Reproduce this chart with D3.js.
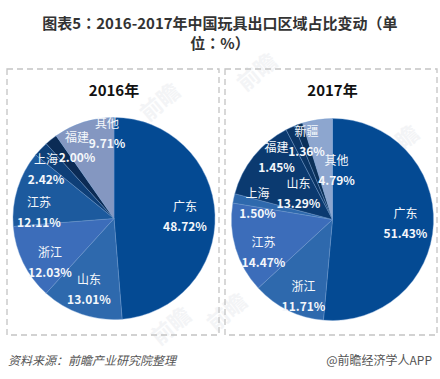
<!DOCTYPE html>
<html>
<head>
<meta charset="utf-8">
<script src="https://cdn.jsdelivr.net/npm/d3@7"></script>
<style>
    html, body { margin: 0; padding: 0; background: #fff; }
    text { font-family: "Noto Sans CJK SC", sans-serif; }
    .tc { font-family: "Noto Sans CJK TC", sans-serif; }
</style>
</head>
<body>
<div id="chart"></div>
<script>
// values, clockwise from 12 o'clock
const names2016 = ["广东", "山东", "浙江", "江苏", "上海", "福建", "其他"];
const values2016 = [48.72, 13.01, 12.03, 12.11, 2.42, 2.00, 9.71];
const colors2016 = ["#044a93", "#2e69ad", "#3c6dba", "#1c5a9e", "#0e3f78", "#0b2b55", "#8497c1"];

const names2017 = ["广东", "浙江", "江苏", "上海", "山东", "福建", "新疆", "其他"];
const values2017 = [51.43, 11.71, 14.47, 1.50, 13.29, 1.45, 1.36, 4.79];
const colors2017 = ["#044a93", "#2e69ad", "#3c6dba", "#2e69ad", "#0b3a70", "#0b3565", "#0b3058", "#8da6cf"];

// label block centres, px from the pie centre (hand placed, same as the original)
const labels2016 = [[71, -2], [-25, 71], [-64, 44], [-75, -6], [-68, -49], [-37, -71], [-7, -85]];
const labels2017 = [[73, 4], [-29, 77.5], [-69, 33.5], [-75, -15.5], [-34, -26], [-56, -62], [-26, -78], [4, -48.5]];

const titleLine1 = [["图表5", 0], ["：", 1], ["2016-2017年中国玩具出口区域占比变动", 0], ["（", 1], ["单", 0]];
const titleLine2 = [["位", 0], ["：", 1], ["%", 0], ["）", 1]];

const width = 440;
const height = 379;
const radius = 101;

const svg = d3.create("svg")
    .attr("width", width)
    .attr("height", height)
    .style("display", "block");

svg.append("rect").attr("width", width).attr("height", height).attr("fill", "#fff");

// faint watermark
const marks = [[165, 108], [404, 150], [176, 332], [262, 78], [232, 318]];
svg.selectAll(".wm")
    .data(marks)
    .enter().append("text")
    .attr("class", "wm")
    .attr("transform", d => `translate(${d[0]},${d[1]}) rotate(-40)`)
    .attr("text-anchor", "middle")
    .attr("font-size", 22)
    .attr("font-weight", 700)
    .attr("fill", "#f3f4f6")
    .text("前瞻");

// title, the full-width marks come from the TC font because they sit centred there
const title = svg.append("text")
    .attr("text-anchor", "middle")
    .attr("font-size", 15)
    .attr("font-weight", 700)
    .attr("fill", "#333");

function titleLine(parts, y) {
    const line = title.append("tspan").attr("x", 220).attr("y", y);
    parts.forEach(p => {
        line.append("tspan").attr("class", p[1] ? "tc" : null).text(p[0]);
    });
}
titleLine(titleLine1, 29);
titleLine(titleLine2, 49);

const pie = d3.pie().sort(null).value(d => d);
const arc = d3.arc().innerRadius(0).outerRadius(radius);

function drawPanel(panel) {
    svg.append("rect")
        .attr("x", panel.x)
        .attr("y", 69)
        .attr("width", panel.w)
        .attr("height", 266)
        .attr("fill", "none")
        .attr("stroke", "#c4c4c4")
        .attr("stroke-width", 1.3)
        .attr("stroke-dasharray", "6 4");

    svg.append("text")
        .attr("x", panel.cx)
        .attr("y", 96)
        .attr("text-anchor", "middle")
        .attr("font-size", 15)
        .attr("font-weight", 700)
        .attr("fill", "#111")
        .text(panel.year);

    const g = svg.append("g")
        .attr("transform", `translate(${panel.cx},${panel.cy})`);

    g.selectAll("path")
        .data(pie(panel.values))
        .enter().append("path")
        .attr("d", arc)
        .attr("fill", (d, i) => panel.colors[i])
        .attr("stroke", "#6f9bd0")
        .attr("stroke-width", 0.4);

    const label = g.selectAll(".label")
        .data(panel.names)
        .enter().append("g")
        .attr("class", "label")
        .attr("transform", (d, i) => `translate(${panel.labels[i][0]},${panel.labels[i][1]})`)
        .attr("text-anchor", "middle")
        .attr("fill", "#f4f7fb");

    label.append("text")
        .attr("y", -6)
        .attr("font-size", 12)
        .text(d => d);

    label.append("text")
        .attr("y", 14)
        .attr("font-size", 12)
        .attr("font-weight", 700)
        .text((d, i) => panel.values[i].toFixed(2) + "%");
}

drawPanel({ year: "2016年", x: 7, w: 212, cx: 114, cy: 218.5, names: names2016, values: values2016, colors: colors2016, labels: labels2016 });
drawPanel({ year: "2017年", x: 225, w: 212, cx: 332.5, cy: 219.5, names: names2017, values: values2017, colors: colors2017, labels: labels2017 });

// footer
svg.append("text")
    .attr("x", 8)
    .attr("y", 365)
    .attr("font-size", 12)
    .attr("font-style", "italic")
    .attr("fill", "#555")
    .text("资料来源：前瞻产业研究院整理");

svg.append("text")
    .attr("x", 432)
    .attr("y", 365)
    .attr("text-anchor", "end")
    .attr("font-size", 12)
    .attr("fill", "#555")
    .text("@前瞻经济学人APP");

document.getElementById("chart").appendChild(svg.node());
</script>
</body>
</html>
